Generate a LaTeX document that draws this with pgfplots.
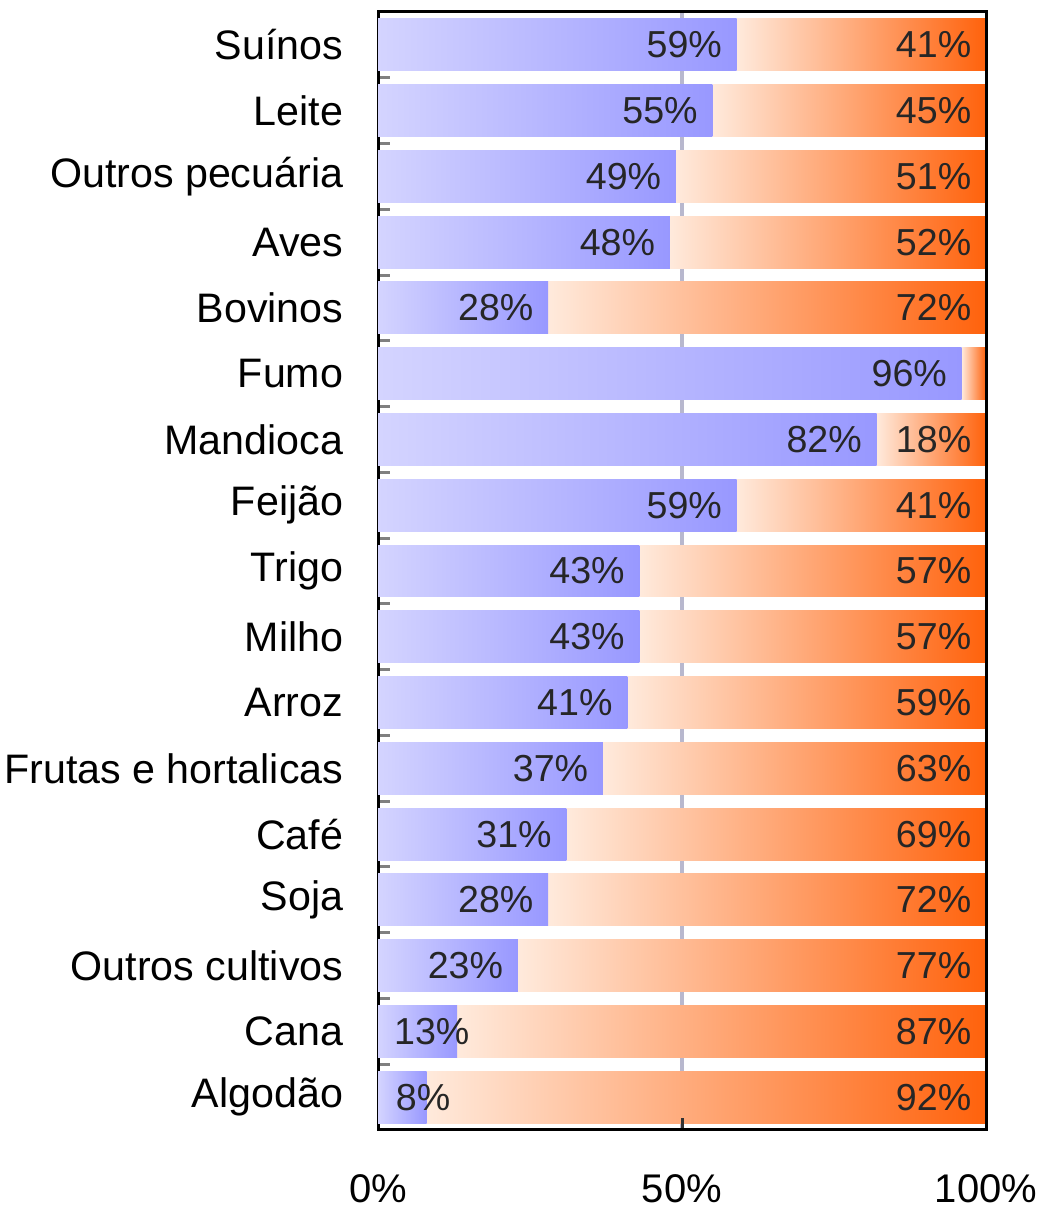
\documentclass[border=0pt]{standalone}
\usepackage{fontspec}
\setmainfont{Liberation Sans}
\usepackage{pgfplots}
\pgfplotsset{compat=1.18}
\usepackage{pgfplotstable}
\definecolor{blueL}{RGB}{212,212,255}
\definecolor{blueR}{RGB}{152,152,255}
\definecolor{orL}{RGB}{255,234,220}
\definecolor{orR}{RGB}{255,98,12}
\definecolor{gridc}{RGB}{184,184,206}
\pgfplotsset{
  layers/mylayers/.define layer set={axis background,axis grid,main,axis ticks,axis lines,axis tick labels,axis descriptions,axis foreground}{},
  common/.style={
    set layers=mylayers,
    scale only axis,
    width=152pt, height=279.5pt,
    xmin=0, xmax=100,
    ymin=-0.5, ymax=16.5,
    y dir=reverse,
    every node near coord/.append style={font=\fontsize{9.4}{11}\selectfont, text=black!85},
  },
  onebar/.style={xbar, bar width=0.79, bar shift=0pt, draw=none},
}
% idx, share of first group (blue), share of second group (orange), label shift (pt)
\pgfplotstableread{
idx a b sh
0 59 41 0
1 55 45 0
2 49 51 0
3 48 52 0
4 28 72 0
5 96 4 0
6 82 18 0
7 59 41 0
8 43 57 0
9 43 57 0
10 41 59 0
11 37 63 0
12 31 69 0
13 28 72 0
14 23 77 0
15 13 87 6.8
16 8 92 9.6
}\data
\begin{document}
\begin{tikzpicture}
% orange segments (measured from the right edge) and the 50% grid line
\begin{axis}[common,
  x dir=reverse,
  axis line style={draw=none},
  xtick={50}, xticklabels={}, ytick=\empty,
  major tick length=0pt,
  xmajorgrids,
  grid style={draw=gridc, line width=1pt},
]
\pgfplotsinvokeforeach{0,...,16}{
\addplot[onebar, left color=orL, right color=orR,
  y filter/.expression={abs(y-#1)<0.1 ? y : nan},
  point meta=explicit symbolic,
  visualization depends on={\thisrow{b}*1.52 \as \shb},
  nodes near coords={\ifnum\pgfplotspointmeta>5 \pgfplotspointmeta\%\fi},
  nodes near coords style={anchor=east, xshift=\shb pt, inner sep=3.5pt},
] table[x=b, y=idx, meta=b]{\data};
}
\end{axis}
% blue segments and the visible axis
\begin{axis}[common,
  name=main,
  ytick={0,...,16},
  yticklabels={Suínos,Leite,Outros pecuária,Aves,Bovinos,Fumo,Mandioca,Feijão,Trigo,Milho,Arroz,Frutas e hortalicas,Café,Soja,Outros cultivos,Cana,Algodão},
  minor ytick={0.5,1.5,...,15.5},
  xtick={0,50,100},
  xticklabels={0\%,50\%,100\%},
  xtick pos=bottom, ytick pos=left,
  tick align=inside,
  major y tick style={draw=none},
  minor y tick style={draw=gray, line width=0.75pt},
  major x tick style={draw=black!80, line width=0.75pt},
  major tick length=3pt, minor tick length=3pt,
  axis line style={black, line width=0.75pt},
  yticklabel style={font=\fontsize{10.3}{12}\selectfont, text=black, inner sep=0pt},
  xticklabel style={font=\fontsize{10}{12}\selectfont, text=black, inner sep=0pt},
  yticklabel shift=8.5pt,
  xticklabel shift=11pt,
]
\pgfplotsinvokeforeach{0,...,16}{
\addplot[onebar, left color=blueL, right color=blueR,
  y filter/.expression={abs(y-#1)<0.1 ? y : nan},
  point meta=explicit symbolic,
  visualization depends on={\thisrow{sh} \as \sh},
  nodes near coords={\pgfplotspointmeta\%},
  nodes near coords style={anchor=east, xshift=\sh pt, inner sep=3.5pt},
] table[x=a, y=idx, meta=a]{\data};
}
\end{axis}
\pgfresetboundingbox
\path ([shift={(-94.5pt,-20pt)}]main.south west) rectangle ([shift={(13pt,3pt)}]main.north east);
\end{tikzpicture}
\end{document}
